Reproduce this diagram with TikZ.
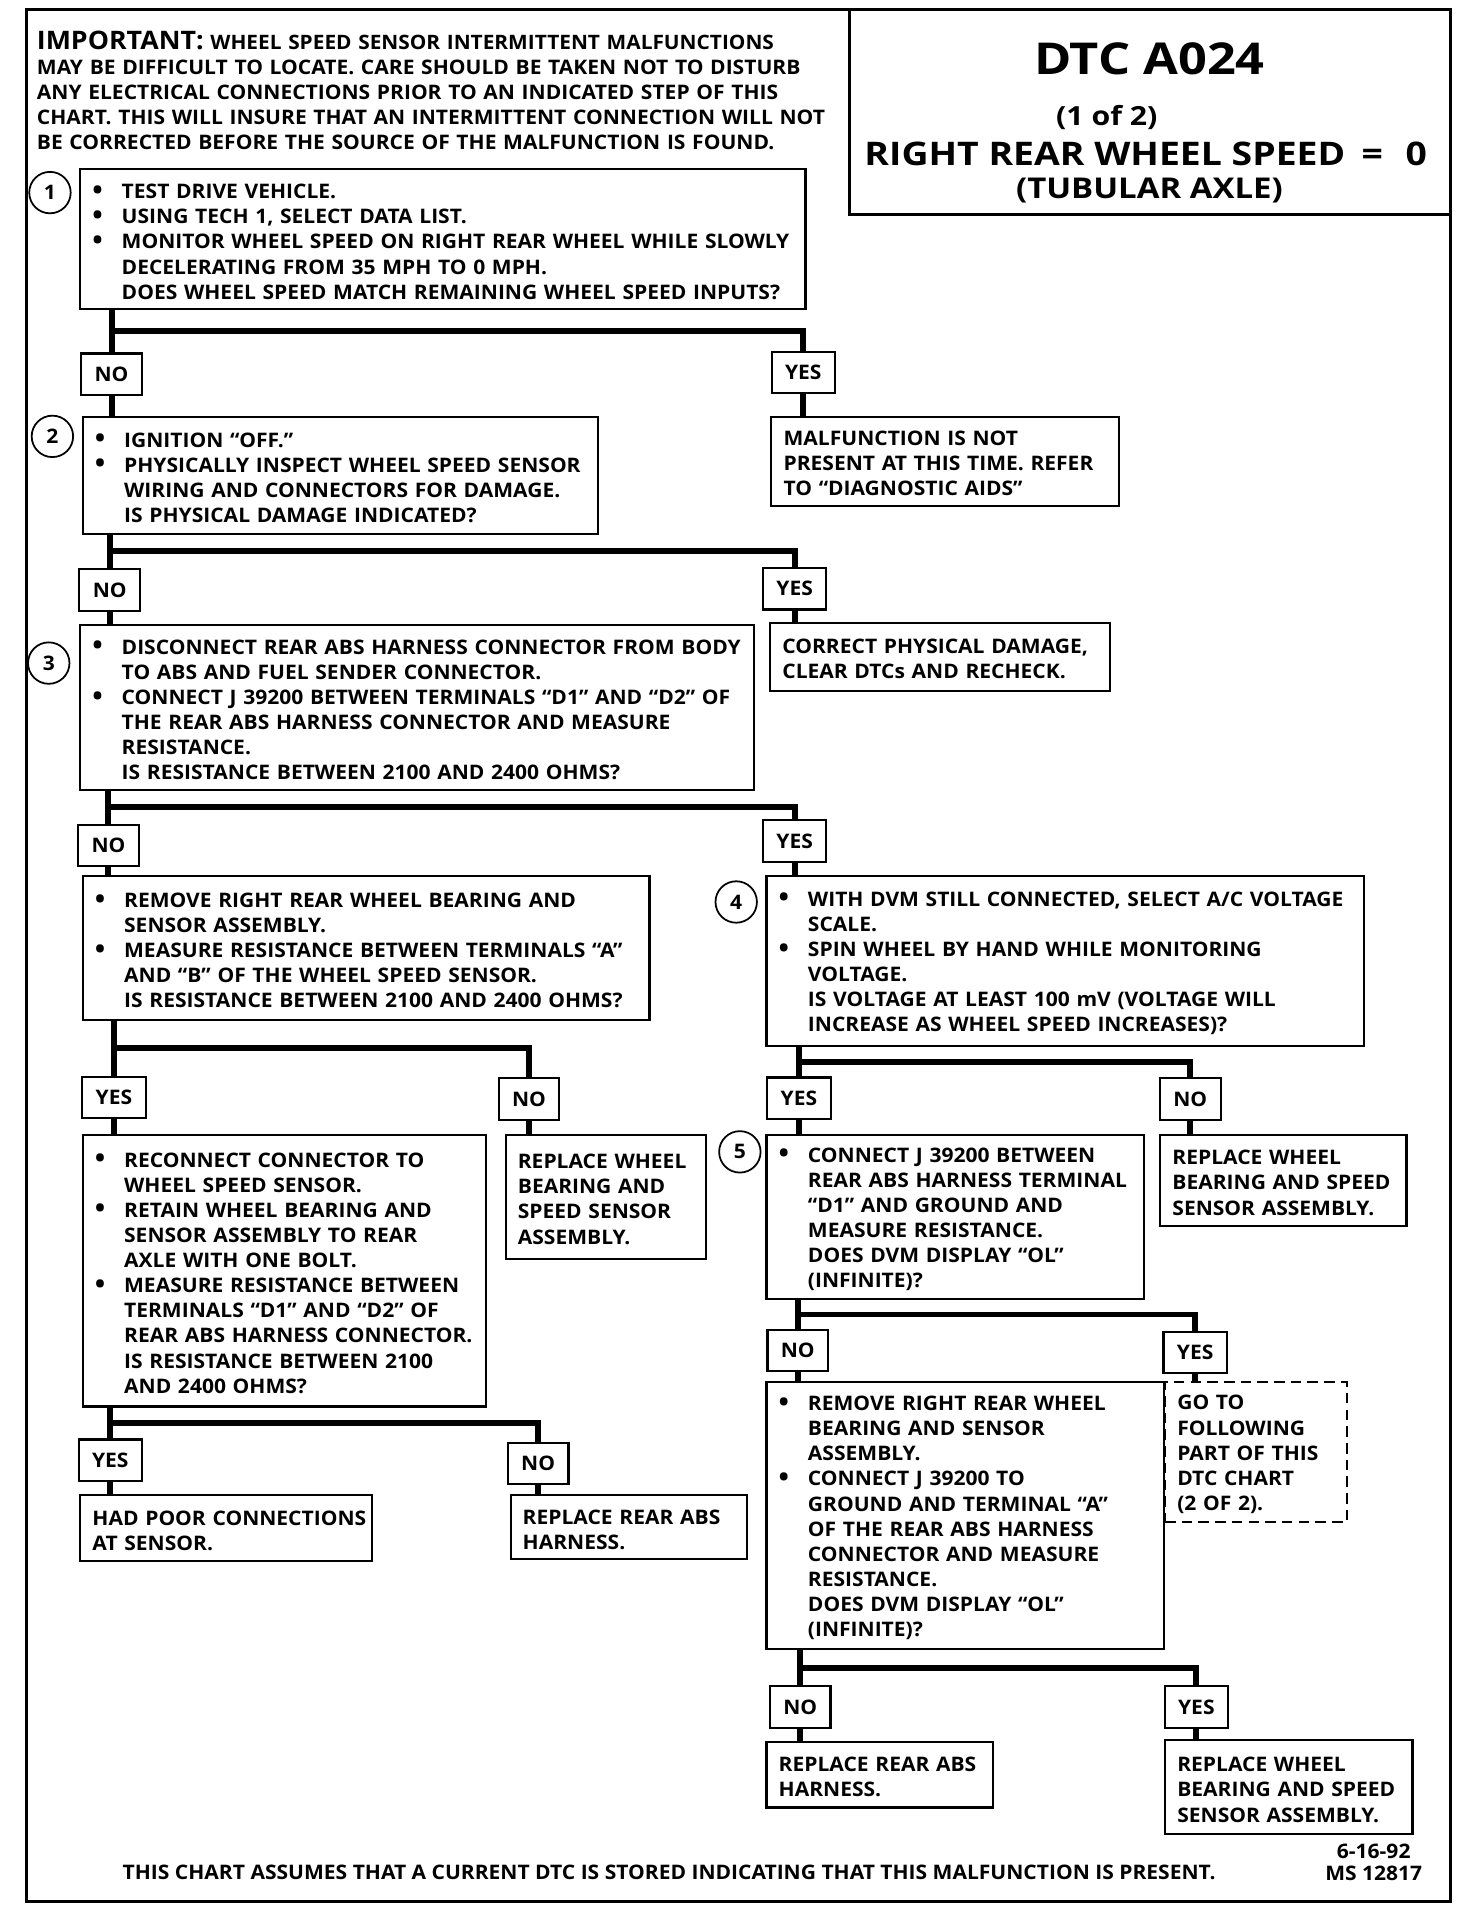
\documentclass[tikz,border=0pt]{standalone}
\usepackage{fontspec}
\setmainfont{Open Sans}[FakeStretch=1.05]
\newfontfamily\widefont{Open Sans}[FakeStretch=1.15]
\usetikzlibrary{calc,positioning}
\newlength{\pu}
\setlength{\pu}{0.02439cm}
\newcommand{\bl}{\makebox[24\pu][l]{\raisebox{-0.4pt}{\fontsize{15}{14.3}\selectfont\textbullet}}}
\newcommand{\ind}{\hspace*{24\pu}}
\newcommand{\chartfont}{\fontsize{11.4}{14.3}\selectfont\bfseries}

\begin{document}
\begin{tikzpicture}[x=0.02439cm, y=-0.02439cm,
  every node/.style={font=\chartfont},
  box/.style 2 args={draw, line width=1.2pt, anchor=north west,
    minimum width=#1*\pu, minimum height=#2*\pu,
    text width=#1*\pu-20*\pu, inner xsep=10*\pu, inner ysep=0pt, align=left,
    text height=11pt},
  lab/.style={draw, line width=1.2pt, minimum height=34*\pu, inner xsep=11*\pu, inner ysep=0pt},
  num/.style={circle, draw, line width=1pt, minimum size=34*\pu, inner sep=0pt},
  conn/.style={line width=3.4pt}]
  \useasboundingbox (0,0) rectangle (1207.7,1567);
  \draw[line width=1.8pt] (22,8) rectangle (1190,1560);
  \draw[line width=1.5pt] (697,8) rectangle (1190,176);

  % title and note
  \node[font=\widefont\bfseries\fontsize{25}{27}\selectfont] (dtc) at (943,48) {DTC A024};
  \node[font=\widefont\bfseries\fontsize{15}{17}\selectfont] (part) at (908,96) {(1 of 2)};
  \node[font=\widefont\bfseries\fontsize{18.5}{20}\selectfont] (rr) at (940,126)
    {RIGHT REAR WHEEL SPEED\hspace{0.5em}=\hspace{0.7em}0};
  \node[font=\widefont\bfseries\fontsize{16.3}{18}\selectfont] (axle) at (943,156) {(TUBULAR AXLE)};
  \node[anchor=north west, inner sep=0pt, text width=650*\pu, align=left] (imp) at (30,25)
    {{\fontsize{14.5}{14}\selectfont IMPORTANT:} {\fontsize{11.3}{12}\selectfont WHEEL SPEED SENSOR INTERMITTENT MALFUNCTIONS}\\
     MAY BE DIFFICULT TO LOCATE.  CARE SHOULD BE TAKEN NOT TO DISTURB\\
     ANY ELECTRICAL CONNECTIONS PRIOR TO AN INDICATED STEP OF THIS\\
     CHART.  THIS WILL INSURE THAT AN INTERMITTENT CONNECTION WILL NOT\\
     BE CORRECTED BEFORE THE SOURCE OF THE MALFUNCTION IS FOUND.};

  % steps
  \node[box={595}{115}] (b1) at (65,138)
    {\bl TEST DRIVE VEHICLE.\\
     \bl USING TECH 1, SELECT DATA LIST.\\
     \bl MONITOR WHEEL SPEED ON RIGHT REAR WHEEL WHILE SLOWLY\\
     \ind DECELERATING FROM 35 MPH TO 0 MPH.\\
     \ind DOES WHEEL SPEED MATCH REMAINING WHEEL SPEED INPUTS?};
  \node[box={423}{96}] (b2) at (67,341)
    {\bl IGNITION “OFF.”\\
     \bl PHYSICALLY INSPECT WHEEL SPEED SENSOR\\
     \ind WIRING AND CONNECTORS FOR DAMAGE.\\
     \ind IS PHYSICAL DAMAGE INDICATED?};
  \node[box={285}{73}] (m1) at (632,341)
    {MALFUNCTION IS NOT\\ PRESENT AT THIS TIME.  REFER\\ TO “DIAGNOSTIC AIDS”};
  \node[box={553}{135}] (b3) at (65,512)
    {\bl DISCONNECT REAR ABS HARNESS CONNECTOR FROM BODY\\
     \ind TO ABS AND FUEL SENDER CONNECTOR.\\
     \bl CONNECT J 39200 BETWEEN TERMINALS “D1” AND “D2” OF\\
     \ind THE REAR ABS HARNESS CONNECTOR AND MEASURE\\
     \ind RESISTANCE.\\
     \ind IS RESISTANCE BETWEEN 2100 AND 2400 OHMS?};
  \node[box={279}{56}] (m2) at (631,510)
    {CORRECT PHYSICAL DAMAGE,\\ CLEAR DTCs AND RECHECK.};
  \node[box={465}{118}] (b6) at (67,718)
    {\bl REMOVE RIGHT REAR WHEEL BEARING AND\\
     \ind SENSOR ASSEMBLY.\\
     \bl MEASURE RESISTANCE BETWEEN TERMINALS “A”\\
     \ind AND “B” OF THE WHEEL SPEED SENSOR.\\
     \ind IS RESISTANCE BETWEEN 2100 AND 2400 OHMS?};
  \node[box={490}{139}] (b4) at (628,718)
    {\bl WITH DVM STILL CONNECTED, SELECT A/C VOLTAGE\\
     \ind SCALE.\\
     \bl SPIN WHEEL BY HAND WHILE MONITORING\\
     \ind VOLTAGE.\\
     \ind IS VOLTAGE AT LEAST 100 mV (VOLTAGE WILL\\
     \ind INCREASE AS WHEEL SPEED INCREASES)?};
  \node[box={331}{223}] (b7) at (67,930)
    {\bl RECONNECT CONNECTOR TO\\
     \ind WHEEL SPEED SENSOR.\\
     \bl RETAIN WHEEL BEARING AND\\
     \ind SENSOR ASSEMBLY TO REAR\\
     \ind AXLE WITH ONE BOLT.\\
     \bl MEASURE RESISTANCE BETWEEN\\
     \ind TERMINALS “D1” AND “D2” OF\\
     \ind REAR ABS HARNESS CONNECTOR.\\
     \ind IS RESISTANCE BETWEEN 2100\\
     \ind AND 2400 OHMS?};
  \node[box={164}{102}] (m3) at (414,930)
    {REPLACE WHEEL\\ BEARING AND\\ SPEED SENSOR\\ ASSEMBLY.};
  \node[box={310}{135}] (b5) at (628,930)
    {\bl CONNECT J 39200 BETWEEN\\
     \ind REAR ABS HARNESS TERMINAL\\
     \ind “D1” AND GROUND AND\\
     \ind MEASURE RESISTANCE.\\
     \ind DOES DVM DISPLAY “OL”\\
     \ind (INFINITE)?};
  \node[box={202}{75}] (m4) at (951,930)
    {REPLACE WHEEL\\ BEARING AND SPEED\\ SENSOR ASSEMBLY.};
  \node[box={239}{54}] (m5) at (65,1226) {\mbox{HAD POOR CONNECTIONS}\\ AT SENSOR.};
  \node[box={194}{52}] (m6) at (418,1226) {REPLACE REAR ABS\\ HARNESS.};
  \node[box={326}{219}] (b8) at (628,1133)
    {\bl REMOVE RIGHT REAR WHEEL\\
     \ind BEARING AND SENSOR\\
     \ind ASSEMBLY.\\
     \bl CONNECT J 39200 TO\\
     \ind GROUND AND TERMINAL “A”\\
     \ind OF THE REAR ABS HARNESS\\
     \ind CONNECTOR AND MEASURE\\
     \ind RESISTANCE.\\
     \ind DOES DVM DISPLAY “OL”\\
     \ind (INFINITE)?};
  \node[box={149}{115}, dash pattern=on 6pt off 3.5pt] (m7) at (955,1133)
    {GO TO\\ FOLLOWING\\ PART OF THIS\\ DTC CHART\\ (2 OF 2).};
  \node[box={186}{54}] (m8) at (628,1428) {REPLACE REAR ABS\\ HARNESS.};
  \node[box={203}{77}] (m9) at (955,1427) {REPLACE WHEEL\\ BEARING AND SPEED\\ SENSOR ASSEMBLY.};

  % step numbers
  \node[num] (c1) at (41,158) {1};
  \node[num] (c2) at (43,358) {2};
  \node[num] (c3) at (40,544) {3};
  \node[num] (c4) at (604,740) {4};
  \node[num] (c5) at (607,945) {5};

  % answers
  \node[lab] (n1) at (91.5,307) {NO};
  \node[lab] (y1) at (659,305.5) {YES};
  \node[lab] (n2) at (90,484) {NO};
  \node[lab] (y2) at (652,483) {YES};
  \node[lab] (n3) at (89,693.5) {NO};
  \node[lab] (y3) at (652,690) {YES};
  \node[lab] (y6) at (93.5,900.5) {YES};
  \node[lab] (n6) at (434,901.5) {NO};
  \node[lab] (y4) at (655.5,901) {YES};
  \node[lab] (n4) at (976.5,901.5) {NO};
  \node[lab] (y7) at (90.5,1198) {YES};
  \node[lab] (n7) at (441.5,1200.5) {NO};
  \node[lab] (n5) at (654.5,1108) {NO};
  \node[lab] (y5) at (980.5,1109.5) {YES};
  \node[lab] (n8) at (656.5,1400.5) {NO};
  \node[lab] (y8) at (981.5,1400.5) {YES};

  % branches
  \foreach \bx/\lf/\rg in {b1/n1/y1, b2/n2/y2, b3/n3/y3, b6/y6/n6,
                          b4/y4/n4, b7/y7/n7, b5/n5/y5, b8/n8/y8}{
    \coordinate (k) at ($(\bx.south)!.5!(\lf.north)$);
    \draw[conn] (\lf.north |- \bx.south) -- (\lf.north);
    \draw[conn] (\lf.north |- k) -| (\rg.north);
  }
  \foreach \lf/\nx in {n1/b2, y1/m1, n2/b3, y2/m2, n3/b6, y3/b4, y6/b7, n6/m3,
                       y4/b5, n4/m4, y7/m5, n7/m6, n5/b8, y5/m7, n8/m8, y8/m9}
    \draw[conn] (\lf.south) -- (\lf.south |- \nx.north);

  % footer
  \node (foot) at (549,1536) {THIS CHART ASSUMES THAT A CURRENT DTC IS STORED INDICATING THAT THIS MALFUNCTION IS PRESENT.};
  \node[align=center, font=\fontsize{11.4}{12.5}\selectfont\bfseries] (date) at (1127,1528) {6-16-92\\MS 12817};
\end{tikzpicture}
\end{document}
